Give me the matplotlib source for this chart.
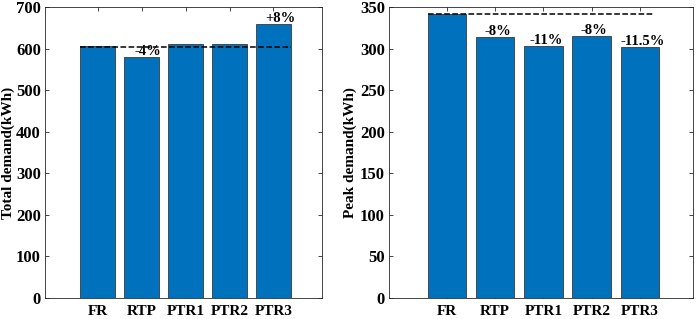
import matplotlib
matplotlib.use("Agg")
import matplotlib.pyplot as plt

plt.rcParams["font.family"] = ["Liberation Serif", "DejaVu Serif"]
plt.rcParams["font.weight"] = "bold"

categories = ["FR", "RTP", "PTR1", "PTR2", "PTR3"]
total_demand = [606, 580, 612, 610, 659]
peak_demand = [341, 314, 303, 315, 302]
total_ref = 605
peak_ref = 341
total_labels = ["", "-4%", "", "", "+8%"]
peak_labels = ["", "-8%", "-11%", "-8%", "-11.5%"]

bar_color = "#0072BD"
positions = list(range(1, len(categories) + 1))


def style_axes(ax, ylim, yticks, ylabel, label_x):
    ax.set_xlim(-0.2, 6.1)
    ax.set_ylim(*ylim)
    ax.set_yticks(yticks)
    ax.set_xticks(positions)
    ax.set_xticklabels(categories)
    ax.tick_params(direction="in", top=True, right=True, length=3,
                   colors="#262626", width=0.6)
    ax.tick_params(axis="y", labelsize=12, pad=3)
    ax.tick_params(axis="x", labelsize=11, pad=5)
    for lbl in ax.get_xticklabels() + ax.get_yticklabels():
        lbl.set_fontweight("bold")
        lbl.set_color("black")
    for sp in ax.spines.values():
        sp.set_color("#262626")
        sp.set_linewidth(0.6)
    ax.set_ylabel(ylabel, fontsize=11, fontweight="bold")
    ax.yaxis.set_label_coords(label_x, 0.5)


fig = plt.figure(figsize=(6.99, 3.19), dpi=100)

# left panel: total demand
ax1 = fig.add_axes([0.0644, 0.066, 0.396, 0.912])
ax1.bar(positions, total_demand, width=0.8, color=bar_color,
        edgecolor="#3a3a3a", linewidth=0.6, zorder=2)
ax1.plot([positions[0] - 0.4, positions[-1] + 0.4], [total_ref, total_ref],
         "k--", linewidth=1.1, zorder=3)
for x, v, t in zip(positions, total_demand, total_labels):
    if t:
        ax1.text(x + 0.15, v - 3, t, ha="center", va="bottom",
                 fontsize=10.5, fontweight="bold", zorder=4)
style_axes(ax1, (0, 700), range(0, 701, 100), "Total demand(kWh)", -0.107)

# right panel: peak demand
ax2 = fig.add_axes([0.5565, 0.066, 0.435, 0.912])
ax2.bar(positions, peak_demand, width=0.8, color=bar_color,
        edgecolor="#3a3a3a", linewidth=0.6, zorder=2)
ax2.plot([positions[0] - 0.4, positions[-1] + 0.27], [peak_ref, peak_ref],
         "k--", linewidth=1.1, zorder=3)
for x, v, t in zip(positions, peak_demand, peak_labels):
    if t:
        ax2.text(x + 0.05, v - 1, t, ha="center", va="bottom",
                 fontsize=10.5, fontweight="bold", zorder=4)
style_axes(ax2, (0, 350), range(0, 351, 50), "Peak demand(kWh)", -0.105)

fig.savefig("out.png", dpi=100)
